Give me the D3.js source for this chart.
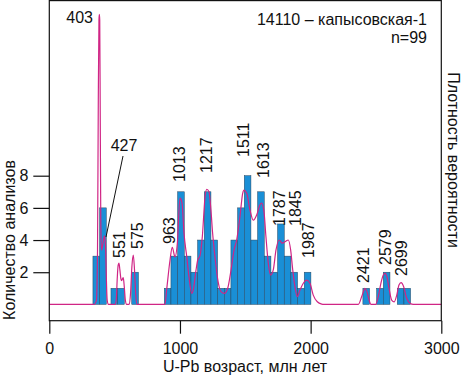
<!DOCTYPE html>
<html>
<head>
<meta charset="utf-8">
<script src="https://cdn.jsdelivr.net/npm/d3@7"></script>
<style>
  body { margin: 0; background: #fff; }
  svg text { font-family: "Liberation Sans", Arial, sans-serif; font-size: 16px; fill: #111; }
</style>
</head>
<body>
<div id="chart"></div>
<script>
'use strict';

// histogram bins (left edge, Ma) and counts
const binWidth = 51
const binStart = [334, 385, 472, 523, 631,
    880, 931, 982, 1033, 1084, 1135, 1186, 1237, 1288, 1339, 1390, 1441,
    1492, 1543, 1594, 1645, 1696, 1747, 1798, 1849, 1900, 1951,
    2400, 2505, 2556, 2663, 2714]
const binCount = [3, 6, 1, 1, 2,
    1, 3, 7, 3, 2, 4, 7, 4, 1, 1, 4, 6,
    8, 4, 7, 3, 2, 5, 3, 2, 1, 2,
    1, 1, 2, 1, 1]

// probability density curve (age, relative density)
const densAge = [0, 342, 361, 369, 375, 380, 383, 386, 390, 394, 399, 407, 415, 422, 430, 436, 443, 453,
    503, 513, 520, 527, 533, 540, 548, 554, 560, 566, 574, 582, 592, 612, 622, 632, 643, 652, 662, 672,
    885, 898, 924, 941, 962, 980, 1000, 1016, 1031, 1052, 1069, 1090, 1102, 1123, 1136, 1153, 1171,
    1192, 1205, 1222, 1237, 1250, 1268, 1286, 1314, 1339, 1365, 1391, 1414, 1434, 1459, 1480, 1490,
    1511, 1536, 1561, 1587, 1612, 1625, 1643, 1658, 1676, 1694, 1714, 1735, 1760, 1783, 1804, 1829,
    1847, 1863, 1880, 1898, 1919, 1944, 1970, 1995, 2020, 2051, 2085, 2100,
    2365, 2391, 2411, 2416, 2431, 2447, 2462, 2498, 2518, 2538, 2556, 2569, 2584, 2600, 2620, 2640,
    2659, 2676, 2692, 2712, 2735, 2760, 2786, 3000]
const densVal = [0, 0, 0.015, 0.187, 0.705, 0.98, 1.0, 0.98, 0.636, 0.291, 0.187, 0.201, 0.222, 0.236, 0.205, 0.101, 0.015, 0,
    0, 0.02, 0.09, 0.135, 0.142, 0.12, 0.088, 0.082, 0.088, 0.092, 0.06, 0.015, 0, 0, 0.04, 0.13, 0.17, 0.12, 0.03, 0,
    0, 0.05, 0.153, 0.197, 0.164, 0.211, 0.366, 0.349, 0.245, 0.164, 0.095, 0.038, 0.05, 0.119, 0.153, 0.167, 0.233,
    0.371, 0.397, 0.388, 0.325, 0.245, 0.164, 0.095, 0.044, 0.038, 0.055, 0.119, 0.188, 0.222, 0.302, 0.383, 0.394,
    0.383, 0.325, 0.29, 0.308, 0.343, 0.349, 0.32, 0.233, 0.142, 0.101, 0.119, 0.188, 0.222, 0.211, 0.216, 0.222,
    0.188, 0.119, 0.061, 0.027, 0.05, 0.073, 0.084, 0.073, 0.032, 0.009, 0.001, 0,
    0, 0.027, 0.052, 0.055, 0.044, 0.015, 0, 0, 0.027, 0.073, 0.101, 0.107, 0.095, 0.055, 0.015, 0.009,
    0.032, 0.067, 0.075, 0.061, 0.021, 0.004, 0, 0]

// peak labels
const peakLabels = ['403', '427', '551', '575', '963', '1013', '1217', '1511', '1613', '1787', '1845', '1987', '2421', '2579', '2699']
const xTicks = [0, 1000, 2000, 3000]
const yTicks = [2, 4, 6, 8]

// label anchors (px): [x, y, rotated]
const labelPos = [[93, 22.7, 0], [110.7, 150.7, 0], [125, 258, 1], [143, 249, 1], [174.5, 244, 1],
    [185, 182, 1], [211.5, 173, 1], [249, 157, 1], [268.5, 178, 1], [285, 226, 1], [301, 226, 1],
    [314, 258, 1], [369, 283, 1], [391, 265, 1], [407, 276, 1]]

const W = 464, H = 375
const margin = { left: 49.3, right: 441.3, top: 0.6, bottom: 320.7 }

const svg = d3.select('#chart').append('svg')
    .attr('width', W).attr('height', H)

const x = d3.scaleLinear().domain([0, 3000]).range([margin.left, margin.right])
const yCount = d3.scaleLinear().domain([0, 8]).range([304.4, 175.7])
const yDens = d3.scaleLinear().domain([0, 1]).range([304.4, 14.3])

svg.append('clipPath').attr('id', 'plot')
    .append('rect')
    .attr('x', margin.left).attr('y', margin.top)
    .attr('width', margin.right - margin.left).attr('height', margin.bottom - margin.top)

const plot = svg.append('g').attr('clip-path', 'url(#plot)')

// bars
plot.selectAll('rect.bar')
    .data(binStart.map((s, i) => ({ s, c: binCount[i] })))
    .join('rect')
    .attr('class', 'bar')
    .attr('x', d => x(d.s))
    .attr('width', d => x(d.s + binWidth) - x(d.s))
    .attr('y', d => yCount(d.c))
    .attr('height', d => yCount(0) - yCount(d.c))
    .attr('fill', '#1a8fd6')
    .attr('stroke', '#27445e')
    .attr('stroke-width', 0.5)

// density curve
plot.append('path')
    .datum(densAge.map((a, i) => [a, densVal[i]]))
    .attr('fill', 'none')
    .attr('stroke', '#d02585')
    .attr('stroke-width', 1.2)
    .attr('d', d3.line()
        .x(d => x(d[0]))
        .y(d => yDens(d[1]))
        .curve(d3.curveMonotoneX))

// frame
svg.append('rect')
    .attr('x', margin.left).attr('y', margin.top)
    .attr('width', margin.right - margin.left).attr('height', margin.bottom - margin.top)
    .attr('fill', 'none').attr('stroke', '#111').attr('stroke-width', 1.2)

// axes
const xAxis = svg.append('g')
    .attr('transform', `translate(0, ${margin.bottom})`)
    .call(d3.axisBottom(x).tickValues(xTicks).tickSize(13).tickPadding(8.5).tickFormat(d => d))
xAxis.select('.domain').remove()

const yAxis = svg.append('g')
    .attr('transform', `translate(${margin.left}, 0)`)
    .call(d3.axisLeft(yCount).tickValues(yTicks).tickSize(16).tickPadding(5))
yAxis.select('.domain').remove()

svg.selectAll('.tick line').attr('stroke', '#111').attr('stroke-width', 1.2)
svg.selectAll('.tick text').style('font-size', '16px').attr('fill', '#111')
    .style('font-family', '"Liberation Sans", Arial, sans-serif')

// peak labels
svg.selectAll('text.peak')
    .data(peakLabels)
    .join('text')
    .attr('class', 'peak')
    .attr('transform', (d, i) => {
        let p = labelPos[i]
        return p[2] ? `translate(${p[0]}, ${p[1]}) rotate(-90)` : `translate(${p[0]}, ${p[1]})`
    })
    .attr('text-anchor', (d, i) => i === 0 ? 'end' : 'start')
    .text(d => d)

// pointer for 427
svg.append('line')
    .attr('x1', 123).attr('y1', 156)
    .attr('x2', 106).attr('y2', 237)
    .attr('stroke', '#111').attr('stroke-width', 1)

// titles
svg.append('text').attr('x', 427).attr('y', 25).attr('text-anchor', 'end')
    .text('14110 – капысовская-1')
svg.append('text').attr('x', 427).attr('y', 43).attr('text-anchor', 'end')
    .text('n=99')

svg.append('text')
    .attr('transform', 'translate(14.6, 240) rotate(-90)')
    .attr('text-anchor', 'middle')
    .text('Количество анализов')

svg.append('text')
    .attr('transform', 'translate(448, 160) rotate(90)')
    .attr('text-anchor', 'middle')
    .text('Плотность вероятности')

svg.append('text')
    .attr('x', 245).attr('y', 371.5)
    .attr('text-anchor', 'middle')
    .text('U-Pb возраст, млн лет')
</script>
</body>
</html>
